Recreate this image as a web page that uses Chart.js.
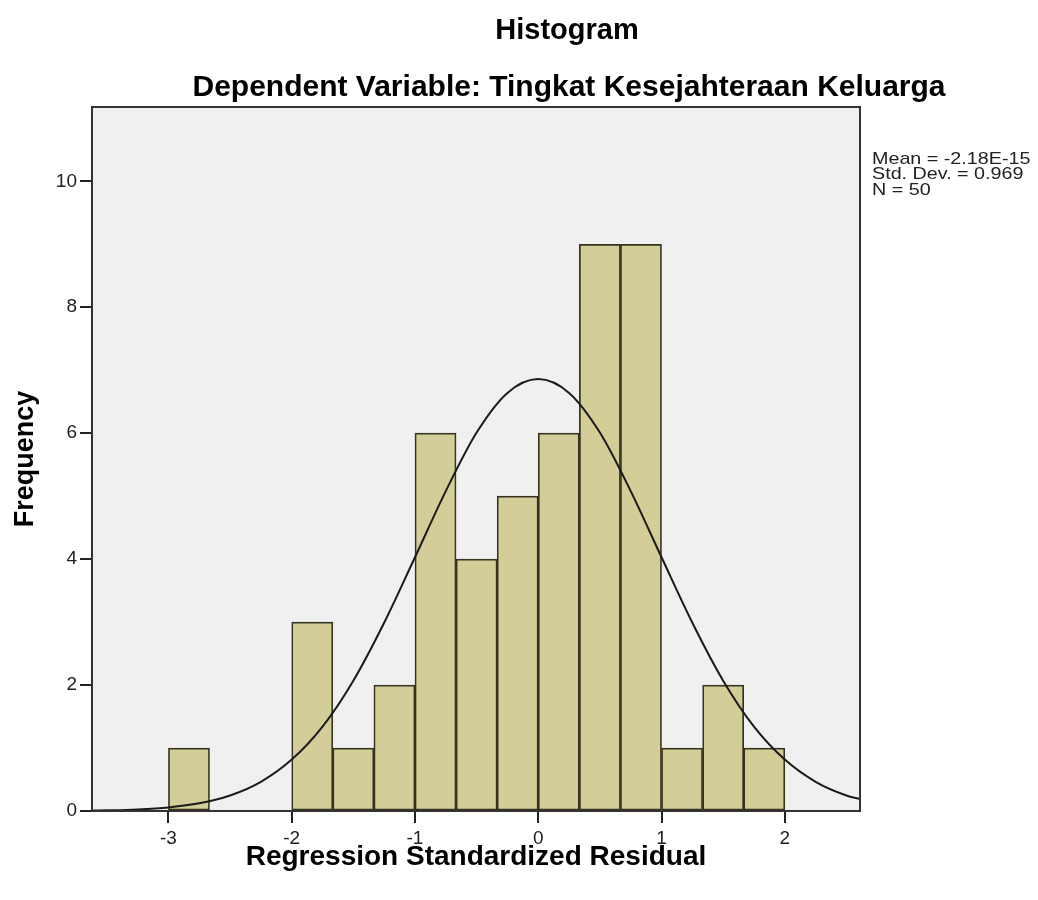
<!DOCTYPE html>
<html>
<head>
<meta charset="utf-8">
<script src="https://cdn.jsdelivr.net/npm/chart.js@4"></script>
<style>
  html, body { margin: 0; padding: 0; background: #fff; }
  #wrap { width: 1038px; height: 900px; }
</style>
</head>
<body>
<div id="wrap"><canvas id="histChart" width="1038" height="900"></canvas></div>
<script>
// bin centres (width 1/3) and counts
const binCenters = [-2.8333, -2.5, -2.1667, -1.8333, -1.5, -1.1667, -0.8333, -0.5, -0.1667, 0.1667, 0.5, 0.8333, 1.1667, 1.5, 1.8333];
const binCounts  = [1, 0, 0, 3, 1, 2, 6, 4, 5, 6, 9, 9, 1, 2, 1];

// normal curve, points
const curveX = [-3.62, -3.5, -3.25, -3, -2.75, -2.5, -2.25, -2, -1.75, -1.5, -1.25, -1, -0.75, -0.5, -0.25, 0, 0.25, 0.5, 0.75, 1, 1.25, 1.5, 1.75, 2, 2.25, 2.5, 2.61];
const curveY = [0.006, 0.010, 0.025, 0.057, 0.122, 0.246, 0.463, 0.816, 1.34, 2.07, 2.99, 4.03, 5.08, 6.01, 6.64, 6.86, 6.64, 6.01, 5.08, 4.03, 2.99, 2.07, 1.34, 0.816, 0.463, 0.246, 0.19];

const xTicks = [-3, -2, -1, 0, 1, 2];
const yTicks = [0, 2, 4, 6, 8, 10];

const statsLines = ['Mean = -2.18E-15', 'Std. Dev. = 0.969', 'N = 50'];

const FONT = '"Liberation Sans", Arial, sans-serif';

const decorPlugin = {
    id: 'decor',
    beforeDatasetsDraw(chart) {
        const { ctx, chartArea: a } = chart;
        ctx.save();
        ctx.fillStyle = '#f0f0f0';
        ctx.fillRect(a.left, a.top, a.right - a.left, a.bottom - a.top);
        ctx.restore();
    },
    afterDraw(chart) {
        const { ctx, chartArea: a } = chart;
        ctx.save();
        ctx.strokeStyle = '#333';
        ctx.lineWidth = 2;
        ctx.strokeRect(a.left, a.top, a.right - a.left, a.bottom - a.top);

        ctx.fillStyle = '#000';
        ctx.textAlign = 'center';
        ctx.textBaseline = 'middle';
        ctx.font = 'bold 29px ' + FONT;
        ctx.fillText('Histogram', 567, 31);
        ctx.font = 'bold 30px ' + FONT;
        ctx.fillText('Dependent Variable: Tingkat Kesejahteraan Keluarga', 569, 88);

        // stats box text, slightly widened like the original
        ctx.fillStyle = '#222';
        ctx.textAlign = 'left';
        ctx.font = '17px ' + FONT;
        ctx.translate(872, 0);
        ctx.scale(1.16, 1);
        statsLines.forEach((t, i) => ctx.fillText(t, 0, 159 + i * 15.5));
        ctx.restore();
    }
};

new Chart(document.getElementById('histChart'), {
    type: 'bar',
    data: {
        datasets: [{
            type: 'line',
            data: curveX.map((x, i) => ({ x: x, y: curveY[i] })),
            borderColor: '#1a1a1a',
            borderWidth: 2,
            pointRadius: 0,
            cubicInterpolationMode: 'monotone',
            fill: false,
            order: 0
        }, {
            type: 'bar',
            data: binCenters.map((x, i) => ({ x: x, y: binCounts[i] })),
            backgroundColor: '#d3ce97',
            borderColor: '#35331f',
            borderWidth: 1.7,
            borderSkipped: false,
            barPercentage: 1,
            categoryPercentage: 1,
            order: 1
        }]
    },
    options: {
        responsive: false,
        animation: false,
        layout: { padding: { top: 107, right: 178, left: 0, bottom: 0 } },
        plugins: {
            legend: { display: false },
            tooltip: { enabled: false }
        },
        scales: {
            x: {
                type: 'linear',
                offset: false,
                min: -3.62,
                max: 2.61,
                afterFit: (s) => { s.height = 89; },
                afterBuildTicks: (s) => { s.ticks = xTicks.map(v => ({ value: v })); },
                grid: { offset: false, drawOnChartArea: false, drawTicks: true, tickLength: 12, color: '#222', lineWidth: 2 },
                border: { display: true, color: '#222', width: 2 },
                ticks: { color: '#222', font: { family: FONT, size: 19 }, padding: 4, maxRotation: 0 },
                title: {
                    display: true,
                    text: 'Regression Standardized Residual',
                    color: '#000',
                    font: { family: FONT, size: 28, weight: 'bold' },
                    padding: { top: 0, bottom: 26 }
                }
            },
            y: {
                min: 0,
                max: 11.18,
                afterFit: (s) => { s.width = 92; },
                afterBuildTicks: (s) => { s.ticks = yTicks.map(v => ({ value: v })); },
                grid: { drawOnChartArea: false, drawTicks: true, tickLength: 12, color: '#222', lineWidth: 2 },
                border: { display: true, color: '#222', width: 2 },
                ticks: { color: '#222', font: { family: FONT, size: 19 }, padding: 3 },
                title: {
                    display: true,
                    text: 'Frequency',
                    color: '#000',
                    font: { family: FONT, size: 27, weight: 'bold' },
                    padding: { top: 9, bottom: 0 }
                }
            }
        }
    },
    plugins: [decorPlugin]
});
</script>
</body>
</html>
